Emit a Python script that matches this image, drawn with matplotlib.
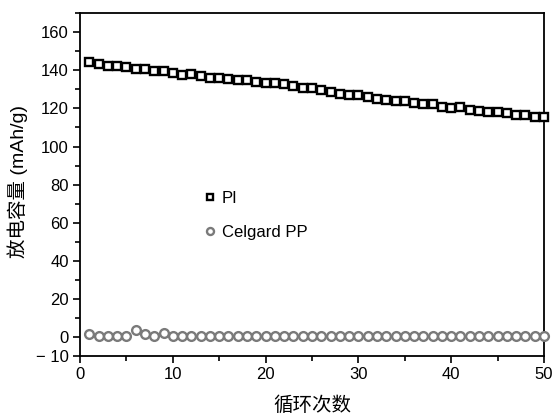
import matplotlib
matplotlib.use("Agg")
import matplotlib.pyplot as plt
import numpy as np
from matplotlib.ticker import MultipleLocator, FixedLocator

plt.rcParams['font.family'] = ['Liberation Sans', 'Noto Sans CJK SC']

cycles = list(range(1, 51))
pi_capacity = [144.4, 143.2, 142.3, 142.3, 141.8, 140.8, 140.8, 139.7, 139.7, 138.5,
               137.6, 138.3, 136.9, 136.1, 136.1, 135.7, 135.2, 135.0, 134.1, 133.4,
               133.4, 132.6, 131.7, 130.8, 130.6, 129.8, 128.7, 127.8, 127.0, 127.0,
               126.1, 125.2, 124.3, 124.0, 124.0, 122.8, 122.1, 122.1, 121.0, 120.2,
               120.5, 119.1, 118.7, 118.0, 118.0, 117.4, 116.5, 116.3, 115.6, 115.3]
pp_capacity = [1.6, 0.3, 0.3, 0.3, 0.5, 3.9, 1.3, 0.6, 2.3, 0.3,
               0.3, 0.3, 0.3, 0.3, 0.3, 0.3, 0.3, 0.3, 0.3, 0.3,
               0.3, 0.3, 0.3, 0.3, 0.3, 0.3, 0.3, 0.3, 0.3, 0.3,
               0.3, 0.3, 0.3, 0.3, 0.3, 0.3, 0.3, 0.3, 0.3, 0.3,
               0.3, 0.3, 0.3, 0.3, 0.3, 0.3, 0.3, 0.3, 0.3, 0.3]
series_names = ['PI', 'Celgard PP']
y_tick_values = [-10, 0, 20, 40, 60, 80, 100, 120, 140, 160]
y_tick_labels = ['\u2212 10', '0', '20', '40', '60', '80', '100', '120', '140', '160']

fig = plt.figure(figsize=(5.53, 4.19), dpi=100)
ax = fig.add_axes([0.1447, 0.1504, 0.839, 0.818])

ax.plot(cycles, pi_capacity, linestyle='none', marker='s', markersize=6,
        markerfacecolor='white', markeredgecolor='black', markeredgewidth=1.7,
        label=series_names[0], clip_on=False, zorder=3)
ax.plot(cycles, pp_capacity, linestyle='none', marker='o', markersize=6.3,
        markerfacecolor='white', markeredgecolor='#7a7a7a', markeredgewidth=1.7,
        label=series_names[1], clip_on=False, zorder=3)

ax.set_xlim(0, 50)
ax.set_ylim(-10, 170)
ax.xaxis.set_major_locator(MultipleLocator(10))
ax.xaxis.set_minor_locator(MultipleLocator(5))
ax.yaxis.set_major_locator(FixedLocator(y_tick_values))
ax.set_yticklabels(y_tick_labels)
ax.yaxis.set_minor_locator(FixedLocator([10, 30, 50, 70, 90, 110, 130, 150, 170]))

ax.tick_params(axis='both', which='major', direction='out', length=5, width=1.2,
               labelsize=12, colors='black', pad=3)
ax.tick_params(axis='both', which='minor', direction='out', length=3.5, width=1.2)
for s in ax.spines.values():
    s.set_linewidth(1.3)

ax.set_xlabel('循环次数', fontsize=14, labelpad=10)
ax.set_ylabel('放电容量 (mAh/g)', fontsize=14)
ax.yaxis.set_label_coords(-0.112, 0.509)

leg = ax.legend(loc='upper left', bbox_to_anchor=(0.245, 0.505), frameon=False,
                fontsize=12, handletextpad=0.2, labelspacing=1.1, borderpad=0,
                handlelength=1.0, markerscale=0.8)

fig.savefig('out.png', dpi=100)
